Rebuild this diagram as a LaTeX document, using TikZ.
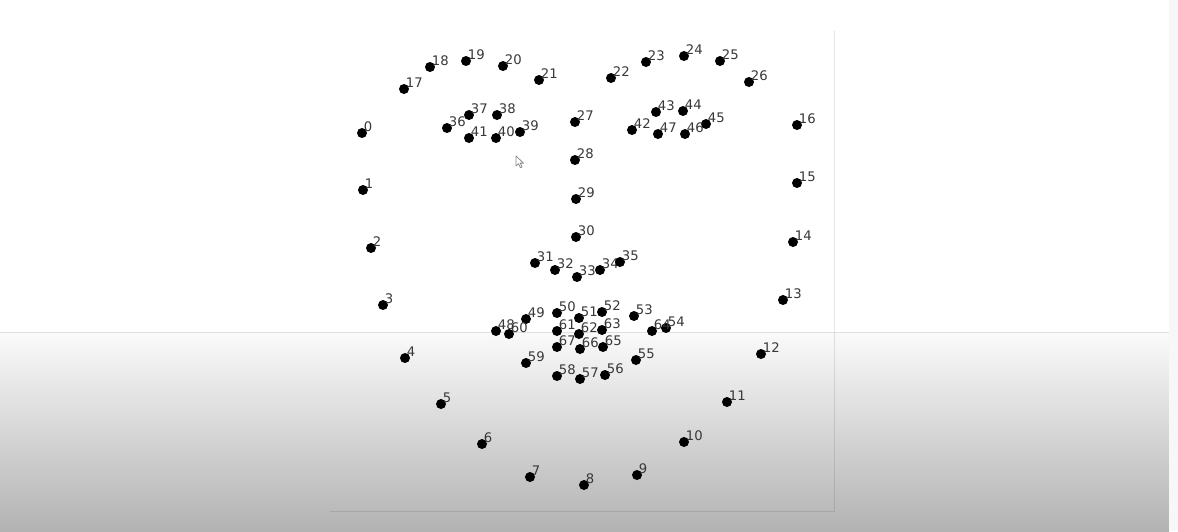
\documentclass[tikz,border=0pt]{standalone}
\usepackage{fontspec}
\setmainfont{DejaVu Sans}
\begin{document}
\begin{tikzpicture}[x={(0.5pt,0)},y={(0,-0.5pt)},
  dot/.style={circle,fill=black,inner sep=0pt,minimum size=5pt},
  lbl/.style={anchor=base west,inner sep=0pt,text=black!78,font=\fontsize{6.6}{7}\selectfont},
  frameline/.style={draw=black,draw opacity=0.1,line width=0.8pt}]
\useasboundingbox (0,0) rectangle (1178,531);
\fill[white] (0,0) rectangle (1178,531);
\shade[top color=black!2,bottom color=black!30] (0,333) rectangle (1169,531);
\draw[draw=black!12,line width=0.7pt] (0,332.5) -- (1169,332.5);
\fill[black!3] (1169,0) rectangle (1178,531);
\coordinate (ftop) at (834.5,31);
\coordinate (fcorner) at (834.5,511.5);
\coordinate (fleft) at (330,511.5);
\draw[frameline] (ftop) -- (fcorner) -- (fleft);
\foreach \i/\x/\y in {0/362/133,1/363/190,2/371/248,3/383/305,4/405/358,5/441/404,6/482/444,7/530/477,8/584/485,9/637/475,10/684/442,11/727/402,12/761/354,13/783/300,14/793/242,15/797/183,16/797/125,17/404/89,18/430/67,19/466/61,20/503/66,21/539/80,22/611/78,23/646/62,24/684/56,25/720/61,26/749/82,27/575/122,28/575/160,29/576/199,30/576/237,31/535/263,32/555/270,33/577/277,34/600/270,35/620/262,36/447/128,37/469/115,38/497/115,39/520/132,40/496/138,41/469/138,42/632/130,43/656/112,44/683/111,45/706/124,46/685/134,47/658/134,48/496/331,49/526/319,50/557/313,51/579/318,52/602/312,53/634/316,54/666/328,55/636/360,56/605/375,57/580/379,58/557/376,59/526/363,60/509/334,61/557/331,62/579/334,63/602/330,64/652/331,65/603/347,66/580/349,67/557/347}{
  \node[dot] (p\i) at (\x,\y) {};
  \node[lbl] (l\i) at ([shift={(1.5,-2)}]p\i.center) {\i};
}
% mouse pointer
\coordinate (cur) at (516,156);
\draw[black!45,fill=white,line width=0.4pt,line join=round] (cur) -- ++(0,10) -- ++(2.5,-2.3) -- ++(2,4) -- ++(1.6,-0.8) -- ++(-2,-3.8) -- ++(3.4,0) -- cycle;
\end{tikzpicture}
\end{document}
